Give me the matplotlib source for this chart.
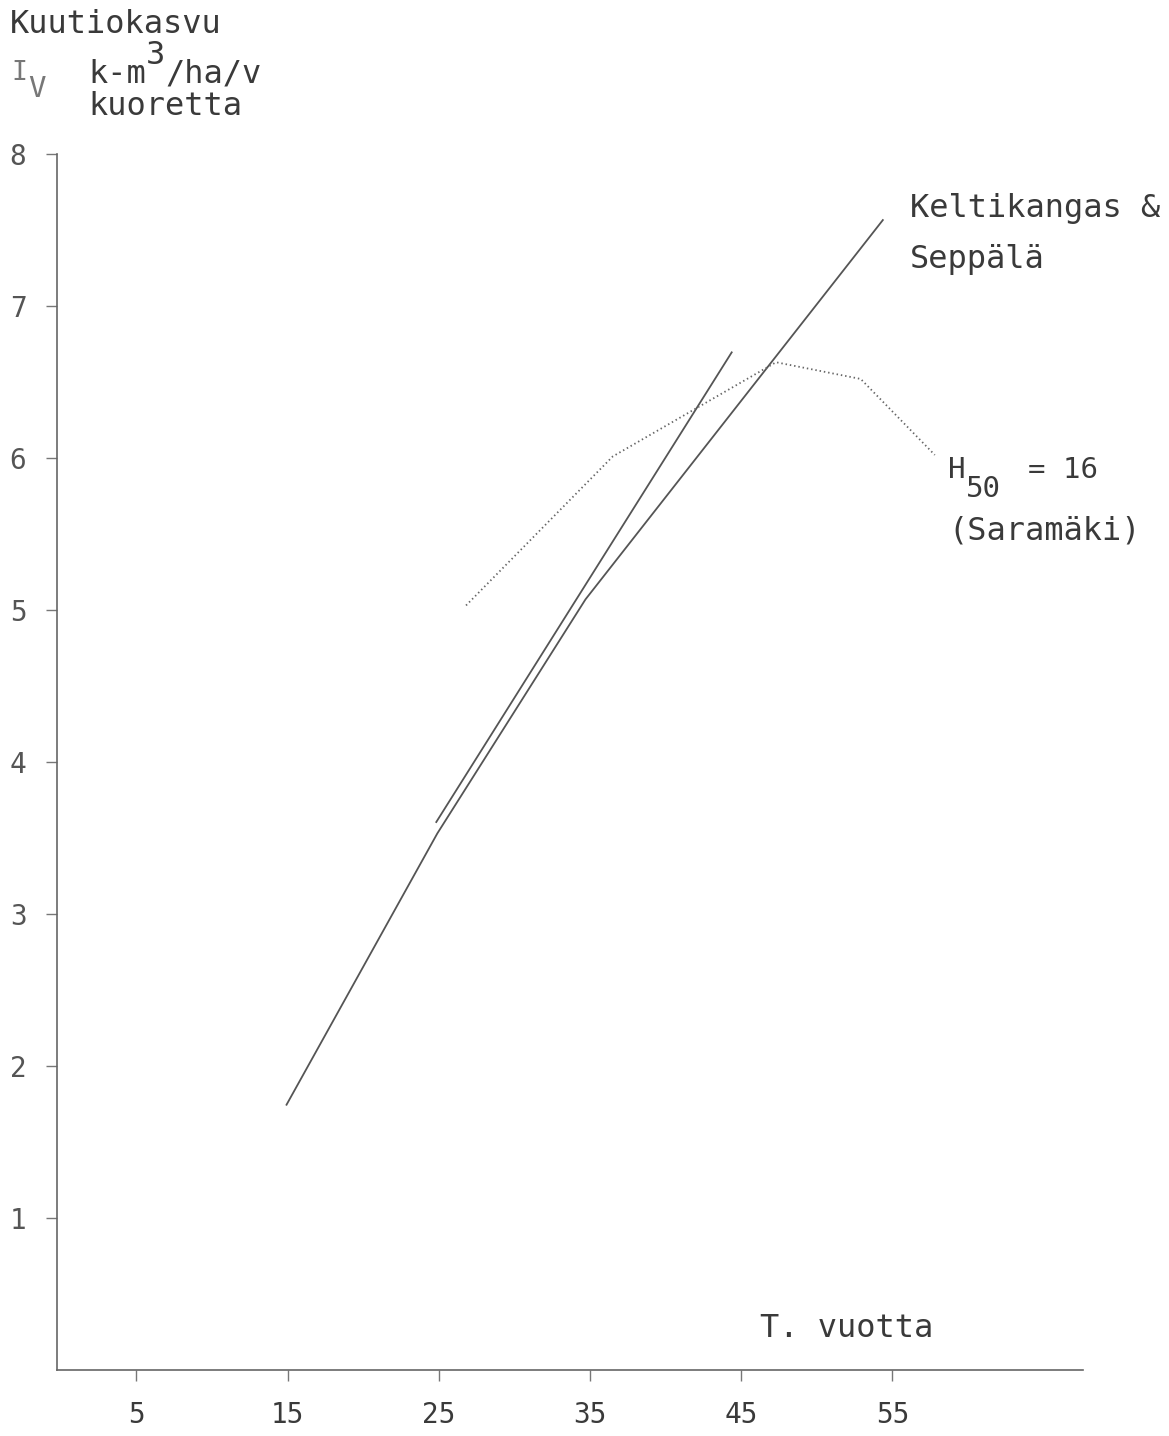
import matplotlib
matplotlib.use("Agg")
import matplotlib.pyplot as plt

# ---- data ----
x_ticks = [5, 15, 25, 35, 45, 55]
y_ticks = [1, 2, 3, 4, 5, 6, 7, 8]

# Keltikangas & Seppälä (long solid line)
ks_age = [14.9, 24.9, 34.7, 54.4]
ks_iv = [1.74, 3.53, 5.07, 7.57]

# second solid line (steeper, shorter)
l2_age = [24.8, 44.4]
l2_iv = [3.60, 6.70]

# H50 = 16 (Saramäki), dotted
sar_age = [26.8, 36.5, 47.3, 52.9, 57.8]
sar_iv = [5.03, 6.01, 6.63, 6.52, 6.02]

W, H = 1169, 1436
fig = plt.figure(figsize=(W / 100, H / 100), dpi=100)
fig.patch.set_facecolor("white")

left_px, right_px, top_px, bot_px = 57, 1083, 154, 1370
ax = fig.add_axes([left_px / W, 1 - bot_px / H, (right_px - left_px) / W, (bot_px - top_px) / H])

FONT = "DejaVu Sans Mono"
TXT = "#3a3a3a"
LINE = "#555555"

ax.plot(ks_age, ks_iv, color=LINE, lw=1.3, solid_capstyle="butt")
ax.plot(l2_age, l2_iv, color=LINE, lw=1.3, solid_capstyle="butt")
ax.plot(sar_age, sar_iv, color="#666666", lw=1.3, linestyle=(0, (0.8, 1.6)))

ax.set_xlim(-0.25, 67.6)
ax.set_ylim(0, 8)

for s in ["top", "right"]:
    ax.spines[s].set_visible(False)
for s in ["left", "bottom"]:
    ax.spines[s].set_color("#666666")
    ax.spines[s].set_linewidth(1.2)

ax.set_xticks(x_ticks)
ax.set_xticklabels([str(v) for v in x_ticks])
ax.set_yticks(y_ticks)
ax.set_yticklabels([str(v) for v in y_ticks])
ax.tick_params(axis="x", direction="out", length=8, width=1, color="#777777",
               pad=14, labelsize=20, labelcolor=TXT)
ax.tick_params(axis="y", direction="out", length=8, width=1, color="#777777",
               pad=14, labelsize=20, labelcolor="#555555")
for lab in ax.get_xticklabels() + ax.get_yticklabels():
    lab.set_fontfamily(FONT)


def ftext(x, y, s, size=23, color=TXT, **kw):
    fig.text(x / W, 1 - y / H, s, fontsize=size, color=color, family=FONT,
             va="baseline", ha="left", **kw)


# y-axis title block
ftext(10, 33, "Kuutiokasvu")
ftext(11, 80, "I", size=19, color="#777777")
ftext(28, 97, "V", size=21, color="#777777")
ftext(88, 83, "k-m")
ftext(146, 64, "3")
ftext(165, 83, "/ha/v")
ftext(88, 115, "kuoretta")

# series labels
ftext(910, 217, "Keltikangas &")
ftext(910, 268, "Seppälä")
ftext(948, 478, "H", size=21)
ftext(966, 497, "50", size=21)
ftext(1028, 478, "= 16", size=21)
ftext(948, 540, "(Saramäki)")

# x-axis title
ftext(760, 1337, "T. vuotta")

fig.savefig("out.png", dpi=100, facecolor="white")
